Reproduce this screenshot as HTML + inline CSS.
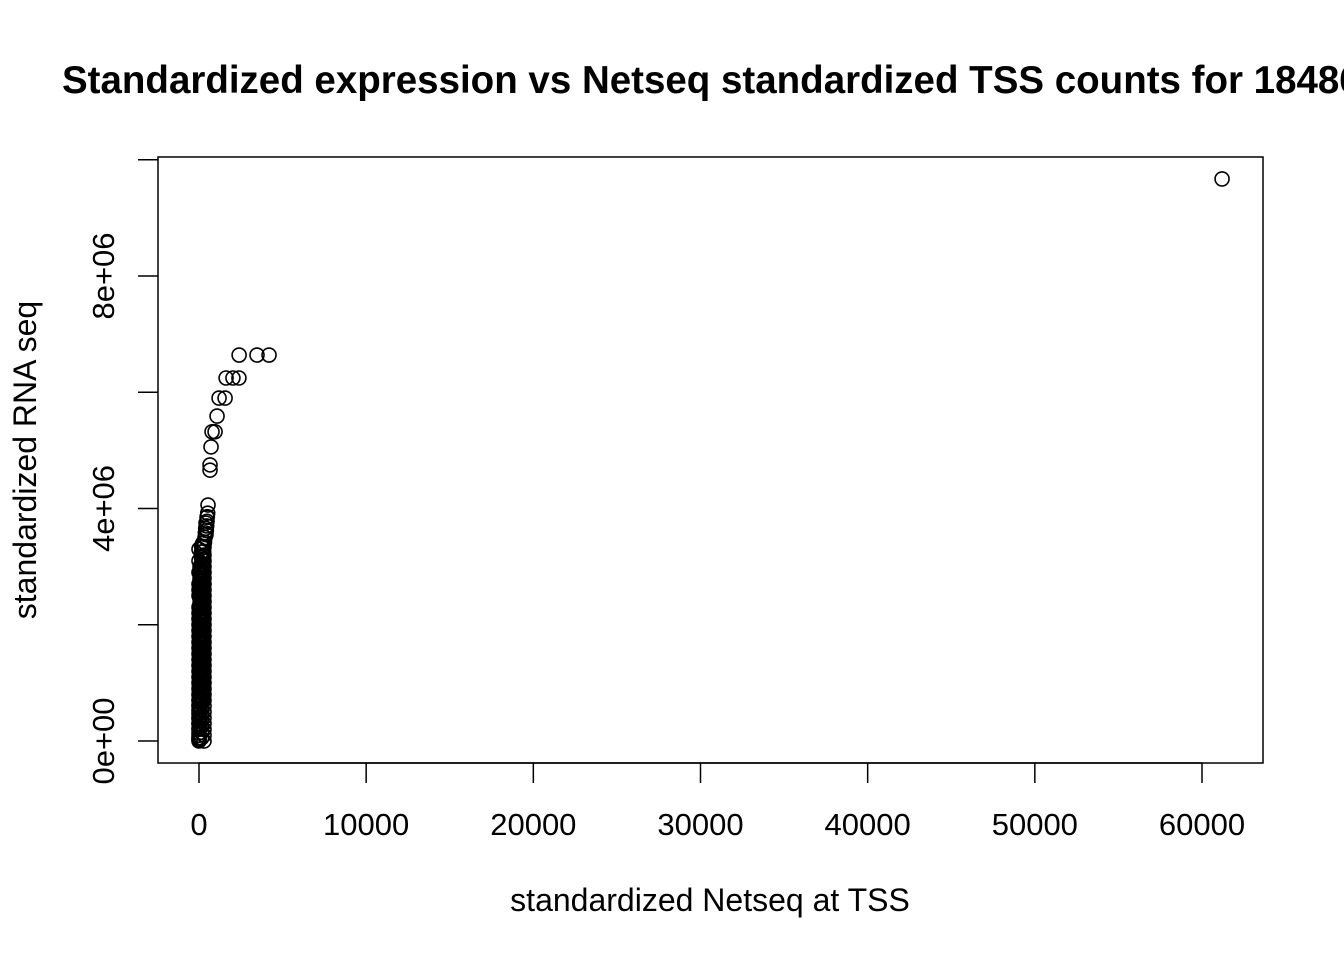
<!DOCTYPE html>
<html><head><meta charset="utf-8"><style>
html,body{margin:0;padding:0;background:#fff;overflow:hidden;}
svg{display:block;font-family:"Liberation Sans",Arial,sans-serif;}
</style></head><body>
<svg id="chart" width="1344" height="960" xmlns="http://www.w3.org/2000/svg">
<text x="62" y="93" font-size="38.5" font-weight="bold">Standardized expression vs Netseq standardized TSS counts for 18486</text>
<rect x="158" y="157" width="1105" height="606" fill="none" stroke="#000" stroke-width="1.5"/>
<g id="xaxis"></g>
<g id="yaxis"></g>
<g id="points"></g>
<text x="710" y="911" font-size="32" text-anchor="middle">standardized Netseq at TSS</text>
<text transform="translate(36,460) rotate(-90)" font-size="32" text-anchor="middle">standardized RNA seq</text>
</svg>
<script>
const xTicks=[0,10000,20000,30000,40000,50000,60000];
const xTickLabels=["0","10000","20000","30000","40000","50000","60000"];
const yTicks=[0,2e6,4e6,6e6,8e6,1e7];
const yTickLabels=["0e+00","","4e+06","","8e+06",""];
const xVals=[61200,2400,3470,4190,1620,2030,2390,1200,1560,1080,780,960,720,660,660,540,480,420,400,380,360,330,300,280,260,240,220,200,180,170,160,150,140,130,120,110,100,95,90,85,80,75,70,65,60,55,50,45,40,35,30,25,20,15,10,5,0,0,0,0,0,0,0,0,0,0,0,0,0,0,0,0,0,0,0,0,0,0,0,0,0,0,0,0,0,0,0,0,0,0,0,0,0,0,0,0,
 300,300,300,300,300,300,300,300,300,300,300,300,300,300,300,300,300,300,300,300,300,300,300,300,300,300,300,300,300,300,300,300,300,
 150,150,150,150,150,150,150,150,150,150,150,150,150,150,150,150,150,150,150,150,150,150,150,150,150,150,150,150,150,150,150,150,150,150,
 60,60,60,60,60,60,60,60,60,60,60,60,60,60,60,60,60,60,60,60,60,60,60,60,60,60,60,60,60,60,60,60,60,60,60,60,60,60,60,60,
 220,220,220,220,220,220,220,220,220,220,220,220,220,220,220,220,220,220,220,220,220,220,220,220,220,220,220,220,220,220,220,220,220,220,220,220,220,220,220,220,
 420,440,460,480,500,520];
const yVals=[9.67e6,6.64e6,6.64e6,6.64e6,6.245e6,6.245e6,6.245e6,5.90e6,5.90e6,5.59e6,5.32e6,5.32e6,5.06e6,4.75e6,4.66e6,4.06e6,3.85e6,3.75e6,3.66e6,3.58e6,3.5e6,3.42e6,3.34e6,3.26e6,3.18e6,3.1e6,3.02e6,2.94e6,2.86e6,2.78e6,2.7e6,2.62e6,2.54e6,2.46e6,2.38e6,2.3e6,2.22e6,2.14e6,2.06e6,1.98e6,1.9e6,1.82e6,1.74e6,1.66e6,1.58e6,1.5e6,1.42e6,1.34e6,1.26e6,1.18e6,1.1e6,1.02e6,0.94e6,0.86e6,0.78e6,0.7e6,0.62e6,0.54e6,0.46e6,0.38e6,0.3e6,0.22e6,0.14e6,0.06e6,0,3.3e6,3.1e6,2.9e6,2.7e6,2.5e6,2.3e6,2.1e6,1.9e6,1.7e6,1.5e6,1.3e6,1.1e6,0.9e6,0.7e6,0.5e6,0.3e6,0.1e6,0.02e6,2.0e6,1.6e6,1.2e6,0.8e6,0.4e6,0.04e6,2.6e6,2.2e6,1.8e6,1.4e6,1.0e6,0.6e6,0.2e6,
 3.2e6,3.1e6,3.0e6,2.9e6,2.8e6,2.7e6,2.6e6,2.5e6,2.4e6,2.3e6,2.2e6,2.1e6,2.0e6,1.9e6,1.8e6,1.7e6,1.6e6,1.5e6,1.4e6,1.3e6,1.2e6,1.1e6,1.0e6,0.9e6,0.8e6,0.7e6,0.6e6,0.5e6,0.4e6,0.3e6,0.2e6,0.1e6,0.0e6,
 3.35e6,3.25e6,3.15e6,3.05e6,2.95e6,2.85e6,2.75e6,2.65e6,2.55e6,2.45e6,2.35e6,2.25e6,2.15e6,2.05e6,1.95e6,1.85e6,1.75e6,1.65e6,1.55e6,1.45e6,1.35e6,1.25e6,1.15e6,1.05e6,0.95e6,0.85e6,0.75e6,0.65e6,0.55e6,0.45e6,0.35e6,0.25e6,0.15e6,0.05e6,
 3.0e6,2.93e6,2.86e6,2.79e6,2.72e6,2.65e6,2.58e6,2.51e6,2.44e6,2.37e6,2.3e6,2.23e6,2.16e6,2.09e6,2.02e6,1.95e6,1.88e6,1.81e6,1.74e6,1.67e6,1.6e6,1.53e6,1.46e6,1.39e6,1.32e6,1.25e6,1.18e6,1.11e6,1.04e6,0.97e6,0.9e6,0.83e6,0.76e6,0.69e6,0.62e6,0.55e6,0.48e6,0.41e6,0.34e6,0.27e6,
 3.4e6,3.33e6,3.26e6,3.19e6,3.12e6,3.05e6,2.98e6,2.91e6,2.84e6,2.77e6,2.7e6,2.63e6,2.56e6,2.49e6,2.42e6,2.35e6,2.28e6,2.21e6,2.14e6,2.07e6,2.0e6,1.93e6,1.86e6,1.79e6,1.72e6,1.65e6,1.58e6,1.51e6,1.44e6,1.37e6,1.3e6,1.23e6,1.16e6,1.09e6,1.02e6,0.95e6,0.88e6,0.81e6,0.74e6,0.67e6,
 3.55e6,3.62e6,3.7e6,3.78e6,3.86e6,3.92e6];
const NS="http://www.w3.org/2000/svg";
function sx(v){return 199+v*(1202-199)/60000;}
function sy(v){return 741-v*(741-276)/8e6;}
function mk(t,a,p){const e=document.createElementNS(NS,t);for(const k in a)e.setAttribute(k,a[k]);p.appendChild(e);return e;}
const xa=document.getElementById('xaxis');
mk('line',{x1:sx(xTicks[0]),x2:sx(xTicks[xTicks.length-1]),y1:763,y2:763,stroke:'#000','stroke-width':1.5},xa);
xTicks.forEach((v,i)=>{
 const l=mk('line',{x1:sx(v),x2:sx(v),y1:763,y2:783,stroke:'#000','stroke-width':1.5},xa);
 
 
 const t=mk('text',{x:sx(v),y:835,'font-size':31,'text-anchor':'middle'},xa);
 t.textContent=xTickLabels[i];
 
 
});
const ya=document.getElementById('yaxis');
yTicks.forEach((v,i)=>{
 const l=mk('line',{x1:138,x2:158,y1:sy(v),y2:sy(v),stroke:'#000','stroke-width':1.5},ya);
 
 
 if(yTickLabels[i]){
  const t=mk('text',{transform:`translate(114,${sy(v)}) rotate(-90)`,'font-size':31,'text-anchor':'middle'},ya);
  t.textContent=yTickLabels[i];
  
  
 }
});
const pg=document.getElementById('points');
xVals.forEach((x,i)=>{
 const c=mk('circle',{cx:sx(x),cy:sy(yVals[i]),r:7,fill:'none',stroke:'#000','stroke-width':1.6},pg);
 
 
});
</script>
</body></html>
